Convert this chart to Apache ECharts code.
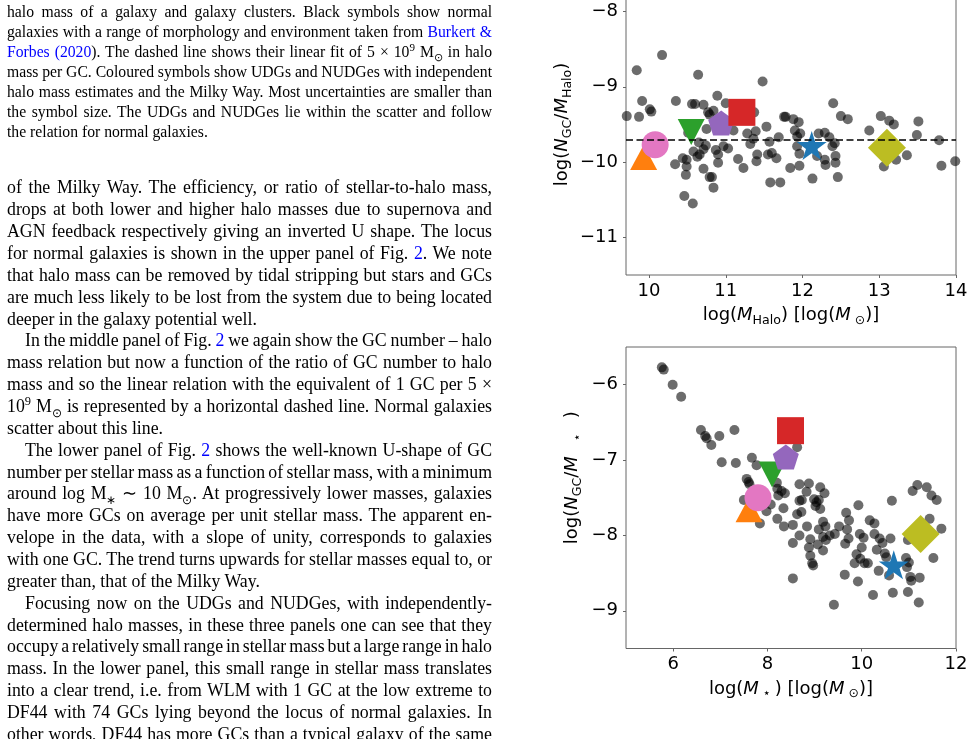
<!DOCTYPE html>
<html>
<head>
<meta charset="utf-8">
<script src="https://cdn.jsdelivr.net/npm/echarts@6/dist/echarts.min.js"></script>
<style>
html, body { margin: 0; padding: 0; background: #fff; }
#page { position: relative; width: 974px; height: 739px; overflow: hidden; }
#chart { position: absolute; left: 0; top: 0; width: 974px; height: 739px; }
.col { position: absolute; left: 7px; width: 485px; font-family: "Liberation Serif", "Times New Roman", serif; color: #000; }
#caption { top: 2px; font-size: 15.7px; }
#caption .ln { height: 20px; line-height: 20px; }
#body { top: 177.4px; font-size: 17.8px; }
#body .ln { height: 21.87px; line-height: 21.87px; }
.ln { white-space: nowrap; }
.ln .t { display: inline-block; }
.ind { padding-left: 18px; }
.lk { color: #0000ff; }
sup, sub { font-size: 0.7em; line-height: 0; }
</style>
</head>
<body>
<div id="page">
  <div id="chart"></div>

  <div class="col" id="caption">
    <div class="ln j"><span class="t">halo mass of a galaxy and galaxy clusters. Black symbols show normal</span></div>
    <div class="ln j"><span class="t">galaxies with a range of morphology and environment taken from <span class="lk">Burkert &amp;</span></span></div>
    <div class="ln j"><span class="t"><span class="lk">Forbes (2020</span>). The dashed line shows their linear fit of 5 × 10<sup>9</sup> M<sub>⊙</sub> in halo</span></div>
    <div class="ln j"><span class="t">mass per GC. Coloured symbols show UDGs and NUDGes with independent</span></div>
    <div class="ln j"><span class="t">halo mass estimates and the Milky Way. Most uncertainties are smaller than</span></div>
    <div class="ln j"><span class="t">the symbol size. The UDGs and NUDGes lie within the scatter and follow</span></div>
    <div class="ln"><span class="t">the relation for normal galaxies.</span></div>
  </div>

  <div class="col" id="body">
    <div class="ln j"><span class="t">of the Milky Way. The efficiency, or ratio of stellar-to-halo mass,</span></div>
    <div class="ln j"><span class="t">drops at both lower and higher halo masses due to supernova and</span></div>
    <div class="ln j"><span class="t">AGN feedback respectively giving an inverted U shape. The locus</span></div>
    <div class="ln j"><span class="t">for normal galaxies is shown in the upper panel of Fig. <span class="lk">2</span>. We note</span></div>
    <div class="ln j"><span class="t">that halo mass can be removed by tidal stripping but stars and GCs</span></div>
    <div class="ln j"><span class="t">are much less likely to be lost from the system due to being located</span></div>
    <div class="ln"><span class="t">deeper in the galaxy potential well.</span></div>
    <div class="ln j ind"><span class="t">In the middle panel of Fig. <span class="lk">2</span> we again show the GC number – halo</span></div>
    <div class="ln j"><span class="t">mass relation but now a function of the ratio of GC number to halo</span></div>
    <div class="ln j"><span class="t">mass and so the linear relation with the equivalent of 1 GC per 5 ×</span></div>
    <div class="ln j"><span class="t">10<sup>9</sup> M<sub>⊙</sub> is represented by a horizontal dashed line. Normal galaxies</span></div>
    <div class="ln"><span class="t">scatter about this line.</span></div>
    <div class="ln j ind"><span class="t">The lower panel of Fig. <span class="lk">2</span> shows the well-known U-shape of GC</span></div>
    <div class="ln j"><span class="t">number per stellar mass as a function of stellar mass, with a minimum</span></div>
    <div class="ln j"><span class="t">around log M<sub>∗</sub> ∼ 10 M<sub>⊙</sub>. At progressively lower masses, galaxies</span></div>
    <div class="ln j"><span class="t">have more GCs on average per unit stellar mass. The apparent en-</span></div>
    <div class="ln j"><span class="t">velope in the data, with a slope of unity, corresponds to galaxies</span></div>
    <div class="ln j"><span class="t">with one GC. The trend turns upwards for stellar masses equal to, or</span></div>
    <div class="ln"><span class="t">greater than, that of the Milky Way.</span></div>
    <div class="ln j ind"><span class="t">Focusing now on the UDGs and NUDGes, with independently-</span></div>
    <div class="ln j"><span class="t">determined halo masses, in these three panels one can see that they</span></div>
    <div class="ln j"><span class="t">occupy a relatively small range in stellar mass but a large range in halo</span></div>
    <div class="ln j"><span class="t">mass. In the lower panel, this small range in stellar mass translates</span></div>
    <div class="ln j"><span class="t">into a clear trend, i.e. from WLM with 1 GC at the low extreme to</span></div>
    <div class="ln j"><span class="t">DF44 with 74 GCs lying beyond the locus of normal galaxies. In</span></div>
    <div class="ln j"><span class="t">other words, DF44 has more GCs than a typical galaxy of the same</span></div>
  </div>
</div>

<script>
// --- data ---

// top panel: normal galaxies, log(M_halo) vs log(N_GC / M_halo)
const haloLogM = [
  10.17, 9.84, 10.64, 11.48, 9.91, 10.35, 10.56, 10.60, 10.71, 10.89,
  11.00, 10.01, 10.03, 9.87, 9.71, 10.77, 10.79, 10.84, 11.37, 11.76,
  11.78, 11.88, 11.90, 11.53, 11.28, 11.39, 11.36, 11.32, 11.57, 11.69,
  11.10, 10.75, 10.51, 10.65, 10.74, 10.71, 10.66, 10.58, 10.63, 10.87,
  10.90, 10.97, 11.03, 10.90, 10.44, 10.49, 10.34, 10.49, 10.48, 10.71,
  10.79, 10.82, 10.84, 10.46, 10.57, 11.16, 11.23, 11.41, 11.40, 11.55,
  11.60, 11.66, 11.58, 11.71, 11.84,
  12.40, 12.50, 12.59, 11.95, 11.97, 11.93, 12.21, 12.29, 12.35, 12.42,
  12.39, 11.93, 11.96, 12.19, 12.29, 12.30, 12.43, 12.43, 11.96, 12.13,
  12.46, 12.87, 13.02, 13.13, 13.19, 13.51, 13.49, 13.36, 13.22, 13.06,
  13.78, 13.81, 13.99
];
const haloRatio = [
  -8.58, -8.78, -8.84, -8.93, -9.19, -9.19, -9.23, -9.23, -9.24, -9.12,
  -9.22, -9.30, -9.33, -9.40, -9.39, -9.34, -9.37, -9.32, -9.34, -9.40,
  -9.40, -9.43, -9.58, -9.53, -9.62, -9.59, -9.69, -9.76, -9.73, -9.67,
  -9.58, -9.56, -9.61, -9.74, -9.78, -9.83, -9.90, -9.86, -9.93, -9.84,
  -9.90, -9.79, -9.82, -10.01, -9.95, -9.97, -10.03, -10.06, -10.17, -10.09,
  -10.20, -10.20, -10.34, -10.45, -10.55, -9.96, -10.08, -9.90, -9.99, -9.90,
  -9.88, -9.95, -10.27, -10.27, -10.08,
  -9.22, -9.39, -9.43, -9.47, -9.62, -9.66, -9.62, -9.61, -9.67, -9.75,
  -9.79, -9.79, -9.89, -9.92, -9.97, -10.04, -9.92, -10.01, -10.05, -10.22,
  -10.20, -9.58, -9.39, -9.45, -9.50, -9.46, -9.64, -9.91, -9.97, -10.06,
  -9.71, -10.05, -9.99
];
// 1 GC per 5e9 Msun
const fitLevel = -9.7;

// bottom panel: normal galaxies, log(M_star) vs log(N_GC / M_star)
const starLogM = [
  5.76, 5.80, 5.99, 6.17, 6.59, 6.68, 6.71, 6.81, 6.98, 7.30,
  7.03, 7.33, 7.67, 7.77, 7.56, 7.60, 7.62, 7.50, 8.07, 7.98,
  7.84, 8.21, 8.35, 8.34, 8.21, 8.30, 8.37, 8.23, 8.20, 8.54,
  8.54, 8.54, 8.63,
  8.68, 8.88, 8.83, 9.12, 9.21, 8.68, 8.73, 8.99, 9.04, 9.09,
  9.02, 9.12, 8.63, 8.72, 8.84, 9.18, 9.23, 9.09, 8.68, 8.91,
  9.07, 9.18, 9.24, 9.32, 9.43, 9.52, 9.18, 8.88, 8.91, 8.95,
  8.97, 9.67, 9.73, 9.69, 9.72, 9.65, 9.93, 9.64, 9.92, 9.41,
  9.96, 10.04, 10.00, 9.89, 9.85, 9.97, 10.06, 10.13, 10.17, 10.27,
  10.27, 10.38, 10.44, 10.32, 10.49, 10.52, 10.36, 10.24, 10.61, 10.64,
  10.66, 10.58, 10.94, 11.00, 10.96, 11.03, 11.05, 11.23, 10.98, 11.21,
  11.18, 11.08, 11.38, 11.48, 11.59, 11.44, 11.69, 11.52, 10.98
];
const starRatio = [
  -5.77, -5.80, -6.00, -6.16, -6.60, -6.68, -6.71, -6.80, -6.68, -6.60,
  -7.03, -7.04, -6.97, -7.07, -7.25, -7.29, -7.32, -7.53, -7.59, -7.68,
  -7.84, -7.78, -7.88, -7.64, -7.38, -7.41, -7.44, -7.47, -7.30, -7.86,
  -8.10, -8.57, -6.83,
  -7.32, -7.31, -7.42, -7.36, -7.44, -7.54, -7.53, -7.52, -7.56, -7.53,
  -7.61, -7.65, -7.72, -7.69, -7.88, -7.82, -7.88, -7.92, -8.00, -8.05,
  -8.12, -8.02, -8.06, -8.00, -7.98, -7.88, -8.20, -8.16, -8.27, -8.37,
  -8.40, -7.70, -7.80, -7.92, -8.04, -8.11, -7.60, -8.52, -8.61, -8.92,
  -7.98, -8.03, -8.16, -8.25, -8.37, -8.31, -8.37, -8.37, -7.80, -7.84,
  -7.98, -8.04, -8.10, -8.19, -8.24, -8.29, -8.47, -8.79, -8.04, -7.54,
  -8.76, -8.53, -8.30, -8.36, -8.42, -8.55, -8.60, -8.56, -8.75, -8.89,
  -7.33, -7.41, -7.36, -7.47, -7.53, -7.78, -7.91, -8.30, -8.06
];

// UDGs / NUDGes and the Milky Way (same order in both panels)
const udgKeys      = ['WLM', 'pink-circle', 'green-triangle', 'purple-pentagon', 'DF44', 'Milky Way', 'olive-diamond'];
const udgHaloLogM  = [9.93, 10.08, 10.55, 10.94, 11.21, 12.12, 13.10];
const udgHaloRatio = [-9.94, -9.77, -9.60, -9.48, -9.34, -9.78, -9.81];
const udgStarLogM  = [7.61, 7.80, 8.10, 8.39, 8.49, 10.68, 11.25];
const udgStarRatio = [-7.66, -7.50, -7.19, -6.96, -6.61, -8.39, -7.98];

const topXTicks = [10, 11, 12, 13, 14];
const topYTicks = [-11, -10, -9, -8];
const botXTicks = [6, 8, 10, 12];
const botYTicks = [-9, -8, -7, -6];

// --- justify the text lines like the typeset page ---
document.querySelectorAll('.ln.j').forEach(ln => {
  const t = ln.querySelector('.t');
  const pad = parseFloat(getComputedStyle(ln).paddingLeft) || 0;
  const w = t.getBoundingClientRect().width;
  const n = (t.textContent.match(/[ \u00a0]/g) || []).length;
  if (n) t.style.wordSpacing = ((485 - pad - w) / n) + 'px';
});

// --- chart ---
const pentagon = 'path://M0,-1L0.951,-0.309L0.588,0.809L-0.588,0.809L-0.951,-0.309Z';
const star = 'path://M0,-1L0.2245,-0.309L0.951,-0.309L0.3633,0.118L0.588,0.809L0,0.382L-0.588,0.809L-0.3633,0.118L-0.951,-0.309L-0.2245,-0.309Z';
const udgLook = [
  { symbol: 'triangle', size: [27, 25], color: '#ff7f0e' },
  { symbol: 'circle', size: 27, color: '#e377c2' },
  { symbol: 'triangle', rotate: 180, size: [27, 26], color: '#2ca02c' },
  { symbol: pentagon, size: [26, 25], color: '#9467bd' },
  { symbol: 'rect', size: 27, color: '#d62728' },
  { symbol: star, size: [30, 29], color: '#1f77b4' },
  { symbol: 'diamond', size: 38, color: '#bcbd22' },
];

const zip = (xs, ys) => xs.map((x, i) => [x, ys[i]]);
const udgItems = (xs, ys) => xs.map((x, i) => ({
  name: udgKeys[i],
  value: [x, ys[i]],
  symbol: udgLook[i].symbol,
  symbolSize: udgLook[i].size,
  symbolRotate: udgLook[i].rotate || 0,
  itemStyle: { color: udgLook[i].color, opacity: 1 },
}));

const minus = v => (v < 0 ? '\u2212' + Math.abs(v) : String(v));
const FONT = 'DejaVu Sans';
const rich = {
  n: { fontFamily: FONT, fontSize: 18, color: '#000' },
  i: { fontFamily: FONT, fontSize: 18, fontStyle: 'italic', color: '#000' },
  s: { fontFamily: FONT, fontSize: 12.6, color: '#000', padding: [10, 0, 0, 0] },
  sx: { fontFamily: FONT, fontSize: 12.6, color: '#000', padding: [10, 4, 0, 4] },
  sy: { fontFamily: FONT, fontSize: 12.6, color: '#000', padding: [10, 15, 0, 15] },
};

function valueAxis(gridIndex, min, max, ticks, margin, labelPad, name, nameGap, extra) {
  return Object.assign({
    type: 'value', gridIndex, min, max,
    axisLine: { show: false },
    axisTick: { show: true, length: 3, customValues: ticks, lineStyle: { color: '#666', width: 1 } },
    axisLabel: {
      customValues: ticks, formatter: minus, margin, padding: labelPad,
      color: '#000', fontFamily: FONT, fontSize: 18,
    },
    splitLine: { show: false },
    name, nameLocation: 'middle', nameGap,
    nameTextStyle: { rich },
  }, extra || {});
}

const chart = echarts.init(document.getElementById('chart'));
chart.setOption({
  animation: false,
  backgroundColor: 'transparent',
  grid: [
    { left: 626, top: -26.2, width: 330, height: 301.2, show: true, borderColor: '#666', borderWidth: 1, outerBoundsMode: 'none', containLabel: false },
    { left: 626, top: 347, width: 330, height: 301.5, show: true, borderColor: '#666', borderWidth: 1, outerBoundsMode: 'none', containLabel: false },
  ],
  xAxis: [
    valueAxis(0, 9.7, 14, topXTicks, 7, 0, '{n|log(}{i|M}{s|Halo}{n|) [log(}{i|M}{s| ⊙}{n|)]}', 29),
    valueAxis(1, 5, 12, botXTicks, 7, 0, '{n|log(}{i|M}{sx|⋆}{n|) [log(}{i|M}{s| ⊙}{n|)]}', 29),
  ],
  yAxis: [
    valueAxis(0, -11.5, -7.5, topYTicks, 8, [4, 0, 0, 0], '{n|log(}{i|N}{s|GC}{n|/}{i|M}{s|Halo}{n|)}', 52),
    valueAxis(1, -9.5, -5.5, botYTicks, 8, [4, 0, 0, 0], '{n|log(}{i|N}{s|GC}{n|/}{i|M}{sy|⋆}{n|)}', 42,
      { nameTextStyle: { rich, padding: [0, 0, 0, 40] } }),
  ],
  series: [
    {
      type: 'scatter', xAxisIndex: 0, yAxisIndex: 0,
      data: zip(haloLogM, haloRatio),
      symbolSize: 10,
      itemStyle: { color: 'rgba(0,0,0,0.72)' },
      markLine: {
        silent: true, symbol: ['none', 'none'],
        label: { show: false },
        lineStyle: { color: '#000', type: [7, 3.5], width: 1.7 },
        data: [{ yAxis: fitLevel }],
      },
    },
    {
      type: 'scatter', xAxisIndex: 0, yAxisIndex: 0, z: 3,
      data: udgItems(udgHaloLogM, udgHaloRatio),
    },
    {
      type: 'scatter', xAxisIndex: 1, yAxisIndex: 1,
      data: zip(starLogM, starRatio),
      symbolSize: 10,
      itemStyle: { color: 'rgba(0,0,0,0.72)' },
    },
    {
      type: 'scatter', xAxisIndex: 1, yAxisIndex: 1, z: 3,
      data: udgItems(udgStarLogM, udgStarRatio),
    },
  ],
});
</script>
</body>
</html>
